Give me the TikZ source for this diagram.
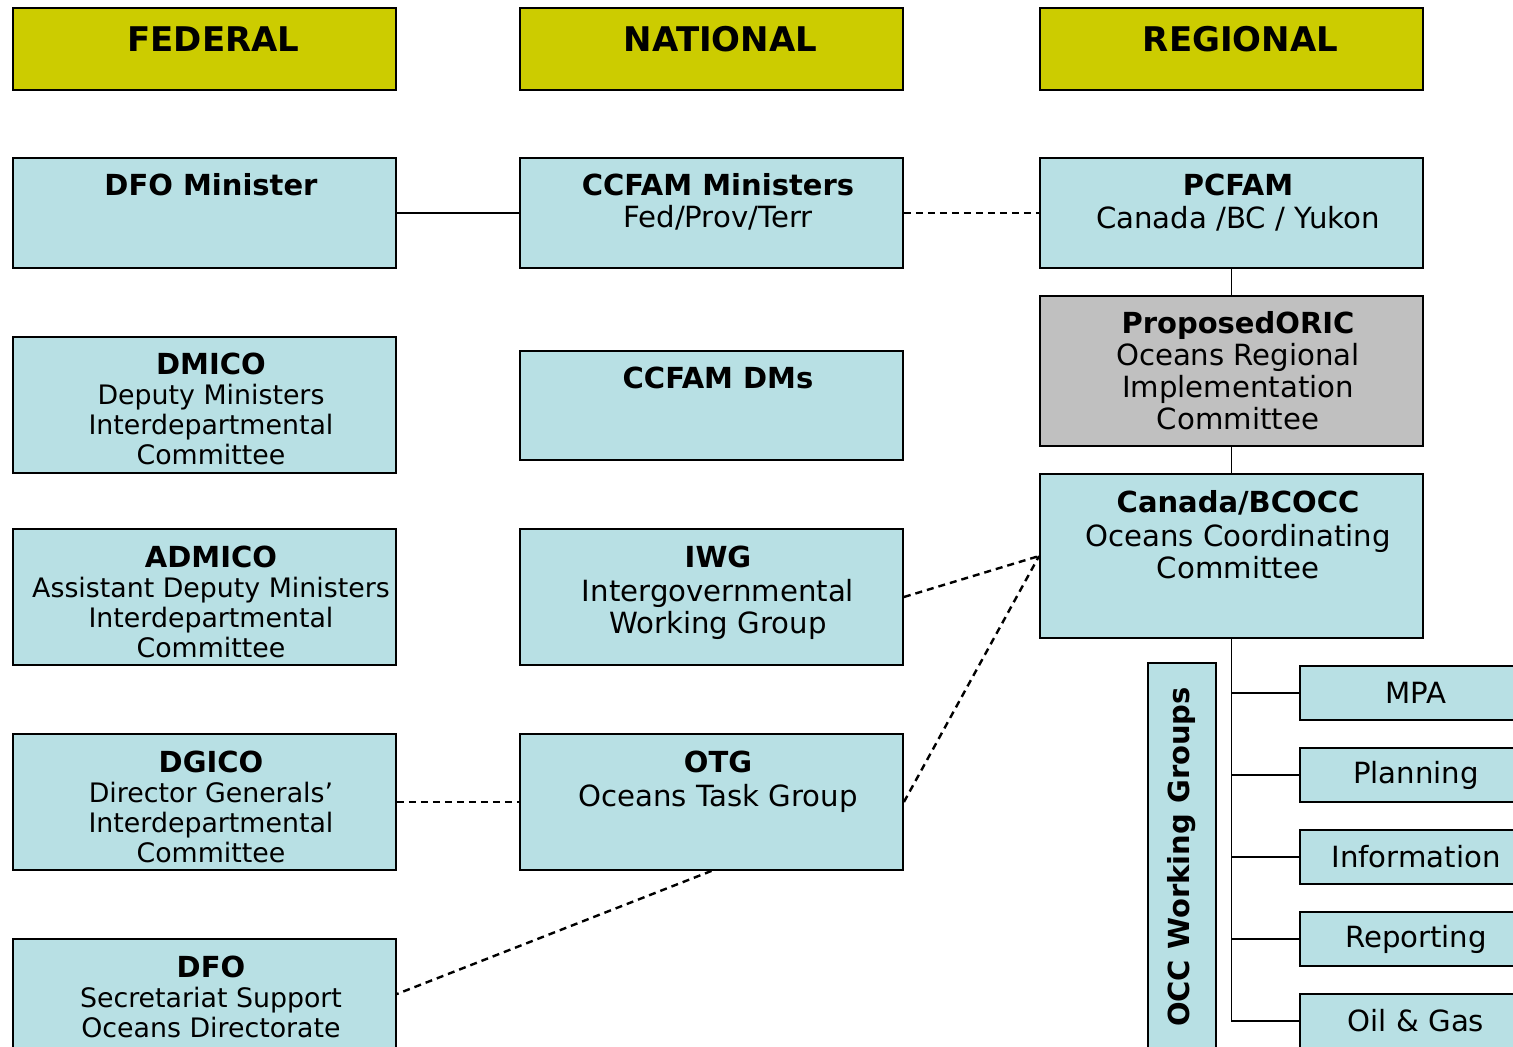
\documentclass[tikz,border=0pt]{standalone}
\usepackage{fontspec}
\setmainfont{DejaVu Sans}

\definecolor{boxblue}{RGB}{184,224,228}
\definecolor{headyellow}{RGB}{204,204,0}
\definecolor{propgray}{RGB}{192,192,192}

\newcommand{\boxtext}[3]{\hspace*{6.5pt}\parbox[c][#1][t]{181pt}{\centering\rule{0pt}{#2}#3}}
\newcommand{\headtext}[1]{\hspace*{9pt}\parbox[c][41pt][t]{175pt}{\centering\rule{0pt}{22pt}#1}}
\newcommand{\ttl}[1]{{\fontsize{14.5}{15}\selectfont\bfseries #1}}

\begin{document}
\begin{tikzpicture}[x=0.5pt,y=-0.5pt]
            \tikzstyle{box} = [rectangle, draw=black, line width=0.9pt, fill=boxblue, inner sep=0pt, minimum width=191.5pt, font=\fontsize{13.4}{15}\selectfont]
            \tikzstyle{bigbox} = [box, font=\fontsize{14.6}{16}\selectfont]
            \tikzstyle{head} = [box, fill=headyellow, font=\fontsize{17}{20}\selectfont\bfseries]
            \tikzstyle{wgbox} = [box, minimum width=116pt, minimum height=27pt, font=\fontsize{14.6}{16}\selectfont]
            \tikzstyle{link} = [line width=0.75pt]
            \tikzstyle{trunk} = [line width=0.95pt]
            \tikzstyle{dashlink} = [line width=1.2pt, dash pattern=on 3.5pt off 2.5pt]

            \useasboundingbox (0,0) rectangle (1513,1047);
            \clip (0,0) rectangle (1513,1047);

            % Headers
            \node (federal) [head] at (204.5,49) {\headtext{FEDERAL}};
            \node (national) [head, right of=federal, node distance=253.5pt] {\headtext{NATIONAL}};
            \node (regional) [head, right of=national, node distance=260pt] {\headtext{REGIONAL}};

            % Federal
            \node (dfomin) [box, below of=federal, node distance=82pt] {\boxtext{55pt}{19pt}{\ttl{DFO Minister}}};
            \node (dmico) [box, below of=dfomin, node distance=96pt] {\boxtext{68pt}{19pt}{\ttl{DMICO}\\Deputy Ministers\\Interdepartmental\\Committee}};
            \node (admico) [box, below of=dmico, node distance=96pt] {\boxtext{68pt}{19pt}{\ttl{ADMICO}\\Assistant Deputy Ministers\\Interdepartmental\\Committee}};
            \node (dgico) [box, below of=admico, node distance=102.5pt] {\boxtext{68pt}{19pt}{\ttl{DGICO}\\Director Generals’\\Interdepartmental\\Committee}};
            \node (dfo) [box, below of=dgico, node distance=96pt] {\boxtext{55pt}{19pt}{\ttl{DFO}\\Secretariat Support\\Oceans Directorate}};

            % National
            \node (ccfamin) [bigbox, below of=national, node distance=82pt] {\boxtext{55pt}{19pt}{\ttl{CCFAM Ministers}\\Fed/Prov/Terr}};
            \node (ccfamdm) [box, below of=ccfamin, node distance=96.25pt] {\boxtext{54.5pt}{19pt}{\ttl{CCFAM DMs}}};
            \node (iwg) [bigbox, below of=ccfamdm, node distance=95.75pt] {\boxtext{68pt}{19pt}{\ttl{IWG}\\[1pt]Intergovernmental\\Working Group}};
            \node (otg) [bigbox, below of=iwg, node distance=102.5pt] {\boxtext{68pt}{19pt}{\ttl{OTG}\\[1pt]Oceans Task Group}};

            % Regional
            \node (pcfam) [bigbox, below of=regional, node distance=82pt] {\boxtext{55pt}{19pt}{\ttl{PCFAM}\\[0.5pt]Canada /BC / Yukon}};
            \node (oric) [bigbox, fill=propgray, below of=pcfam, node distance=79pt] {\boxtext{75pt}{19pt}{\ttl{ProposedORIC}\\Oceans Regional\\Implementation\\Committee}};
            \node (bcocc) [bigbox, below of=oric, node distance=92.5pt] {\boxtext{82pt}{19pt}{\ttl{Canada/BCOCC}\\[1pt]Oceans Coordinating\\Committee}};

            % Working groups
            \node (occwg) [box, rotate=90, minimum width=194pt, minimum height=34pt, font=\fontsize{14.5}{16}\selectfont\bfseries] at (1182,857) {OCC Working Groups};
            \node (mpa) [wgbox] at (1416,693) {MPA};
            \node (planning) [wgbox, below of=mpa, node distance=41pt] {Planning};
            \node (information) [wgbox, below of=planning, node distance=41pt] {Information};
            \node (reporting) [wgbox, below of=information, node distance=41pt] {Reporting};
            \node (oilgas) [wgbox, below of=reporting, node distance=41pt] {Oil \& Gas};

            % Lines
            \draw [link] (dfomin) -- (ccfamin);
            \draw [dashlink] (ccfamin) -- (pcfam);
            \draw [link] (pcfam) -- (oric);
            \draw [link] (oric) -- (bcocc);
            \draw [dashlink] (iwg.east) -- (bcocc.west);
            \draw [dashlink] (otg.east) -- (bcocc.west);
            \draw [dashlink] (dgico) -- (otg);
            \draw [dashlink] (otg.south) -- (dfo.east);
            \foreach \wg in {mpa,planning,information,reporting,oilgas}
                \draw [trunk] (bcocc.south) |- (\wg.west);
        \end{tikzpicture}
\end{document}
